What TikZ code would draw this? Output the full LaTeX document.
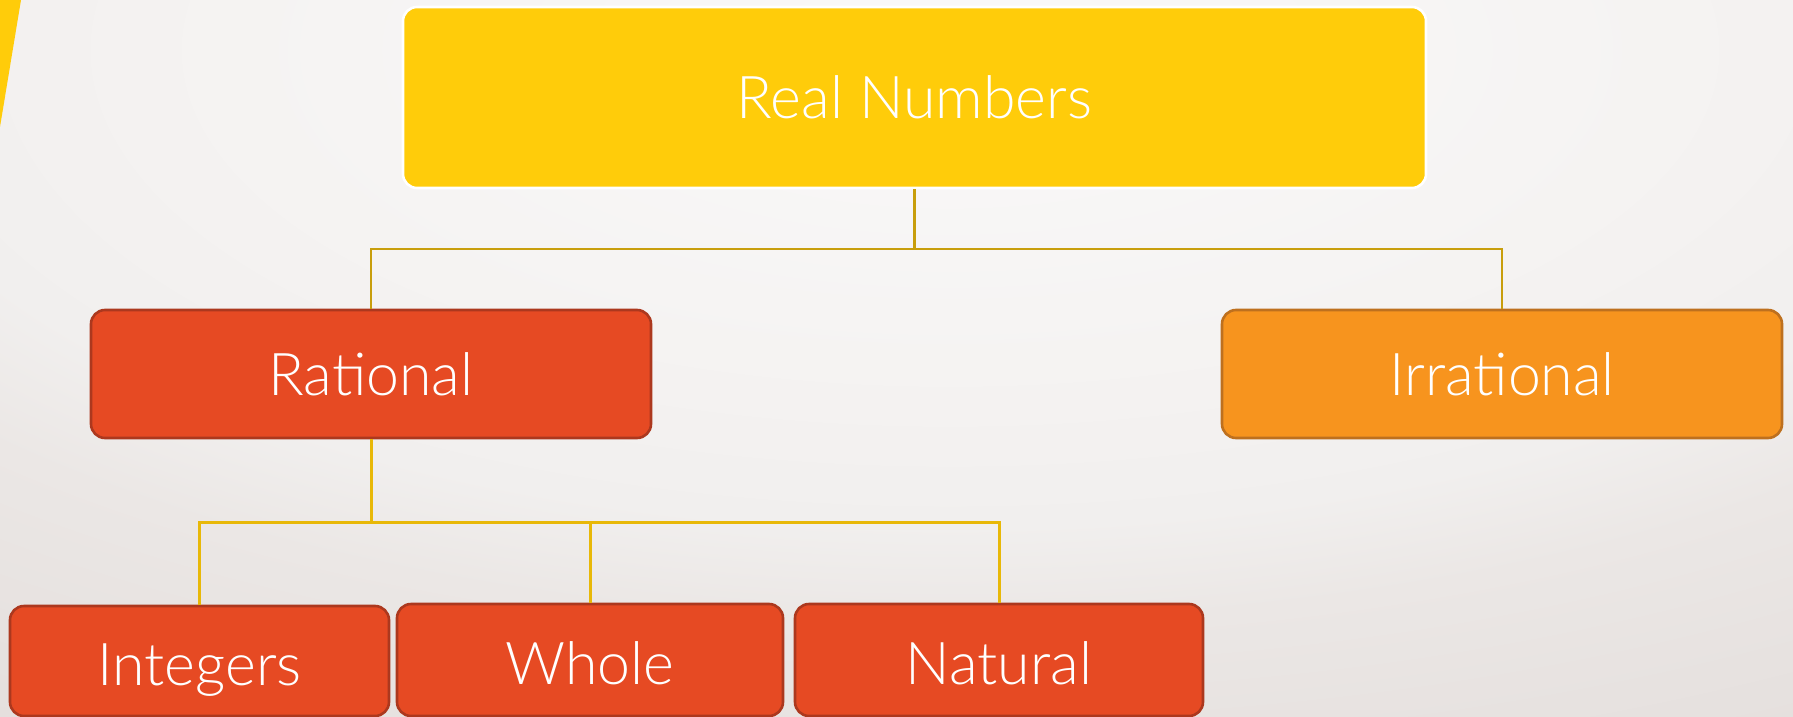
\documentclass[tikz,border=0pt]{standalone}
\usepackage{fontspec}
\newfontfamily\boxfont{Lato Light}
\definecolor{bg0}{RGB}{250,249,249}
\definecolor{bg1}{RGB}{245,243,242}
\definecolor{bg2}{RGB}{241,239,238}
\definecolor{bg3}{RGB}{235,231,229}
\definecolor{bg4}{RGB}{226,220,218}
\definecolor{bg5}{RGB}{219,212,209}
\definecolor{bg6}{RGB}{212,204,200}
\definecolor{ryellow}{RGB}{255,204,10}
\definecolor{rred}{RGB}{230,74,35}
\definecolor{rredb}{RGB}{172,56,30}
\definecolor{rorange}{RGB}{247,148,30}
\definecolor{rorangeb}{RGB}{190,112,30}
\definecolor{linea}{RGB}{200,158,12}
\definecolor{lineb}{RGB}{232,184,8}
\pgfdeclareradialshading{bgshade}{\pgfpoint{0bp}{0bp}}{color(0bp)=(bg0); color(11.3bp)=(bg1); color(17bp)=(bg2); color(20.5bp)=(bg3); color(31.1bp)=(bg4); color(35.4bp)=(bg5); color(40bp)=(bg6); color(50bp)=(bg6)}
\tikzset{
  box/.style={rectangle, rounded corners=7pt, line width=1.3pt, text=white, inner sep=0pt, font=\boxfont\fontsize{29.5pt}{34pt}\selectfont},
  lowtext/.style={execute at begin node={\raisebox{-12.3pt}[0pt][0pt]\bgroup}, execute at end node={\egroup}},
  conna/.style={draw=linea, line width=1.4pt},
  connb/.style={draw=lineb, line width=1.5pt},
}
\begin{document}
\begin{tikzpicture}[x=0.5pt,y=-0.5pt]
\useasboundingbox (0,0) rectangle (1793,717);
\begin{scope}
\clip (0,0) rectangle (1793,717);
\shade[shading=bgshade] (-650,-650) rectangle (2550,750);
\fill[ryellow] (0,0) -- (21,0) -- (0,127) -- cycle;
\end{scope}
\node[box, fill=ryellow, draw=white, minimum width=511.5pt, minimum height=90.5pt] (rn) at (914.5,97.5) {Real Numbers};
\node[box, fill=rred, draw=rredb, minimum width=280pt, minimum height=64pt] (rat) at (371,374) {Rational};
\node[box, fill=rorange, draw=rorangeb, minimum width=280pt, minimum height=64pt] (irr) at (1502,374) {Irrational};
\node[box, fill=rred, draw=rredb, minimum width=189.5pt, minimum height=55pt] (int) at (199.5,661) {\raisebox{-12.3pt}[0pt][0pt]{Integers}};
\node[box, fill=rred, draw=rredb, minimum width=193pt, minimum height=56pt] (who) at (590,660) {\raisebox{-12pt}[0pt][0pt]{Whole}};
\node[box, fill=rred, draw=rredb, minimum width=204pt, minimum height=56pt] (nat) at (999,660) {\raisebox{-12pt}[0pt][0pt]{Natural}};
\coordinate (j1) at (914.5,249);
\coordinate (j2) at (371,522);
\draw[conna] (rn.south) -- (j1);
\draw[conna] (j1) -| (rat.north);
\draw[conna] (j1) -| (irr.north);
\draw[connb] (rat.south) -- (j2);
\draw[connb] (j2) -| (int.north);
\draw[connb] (j2) -| (who.north);
\draw[connb] (j2) -| (nat.north);
\end{tikzpicture}
\end{document}
